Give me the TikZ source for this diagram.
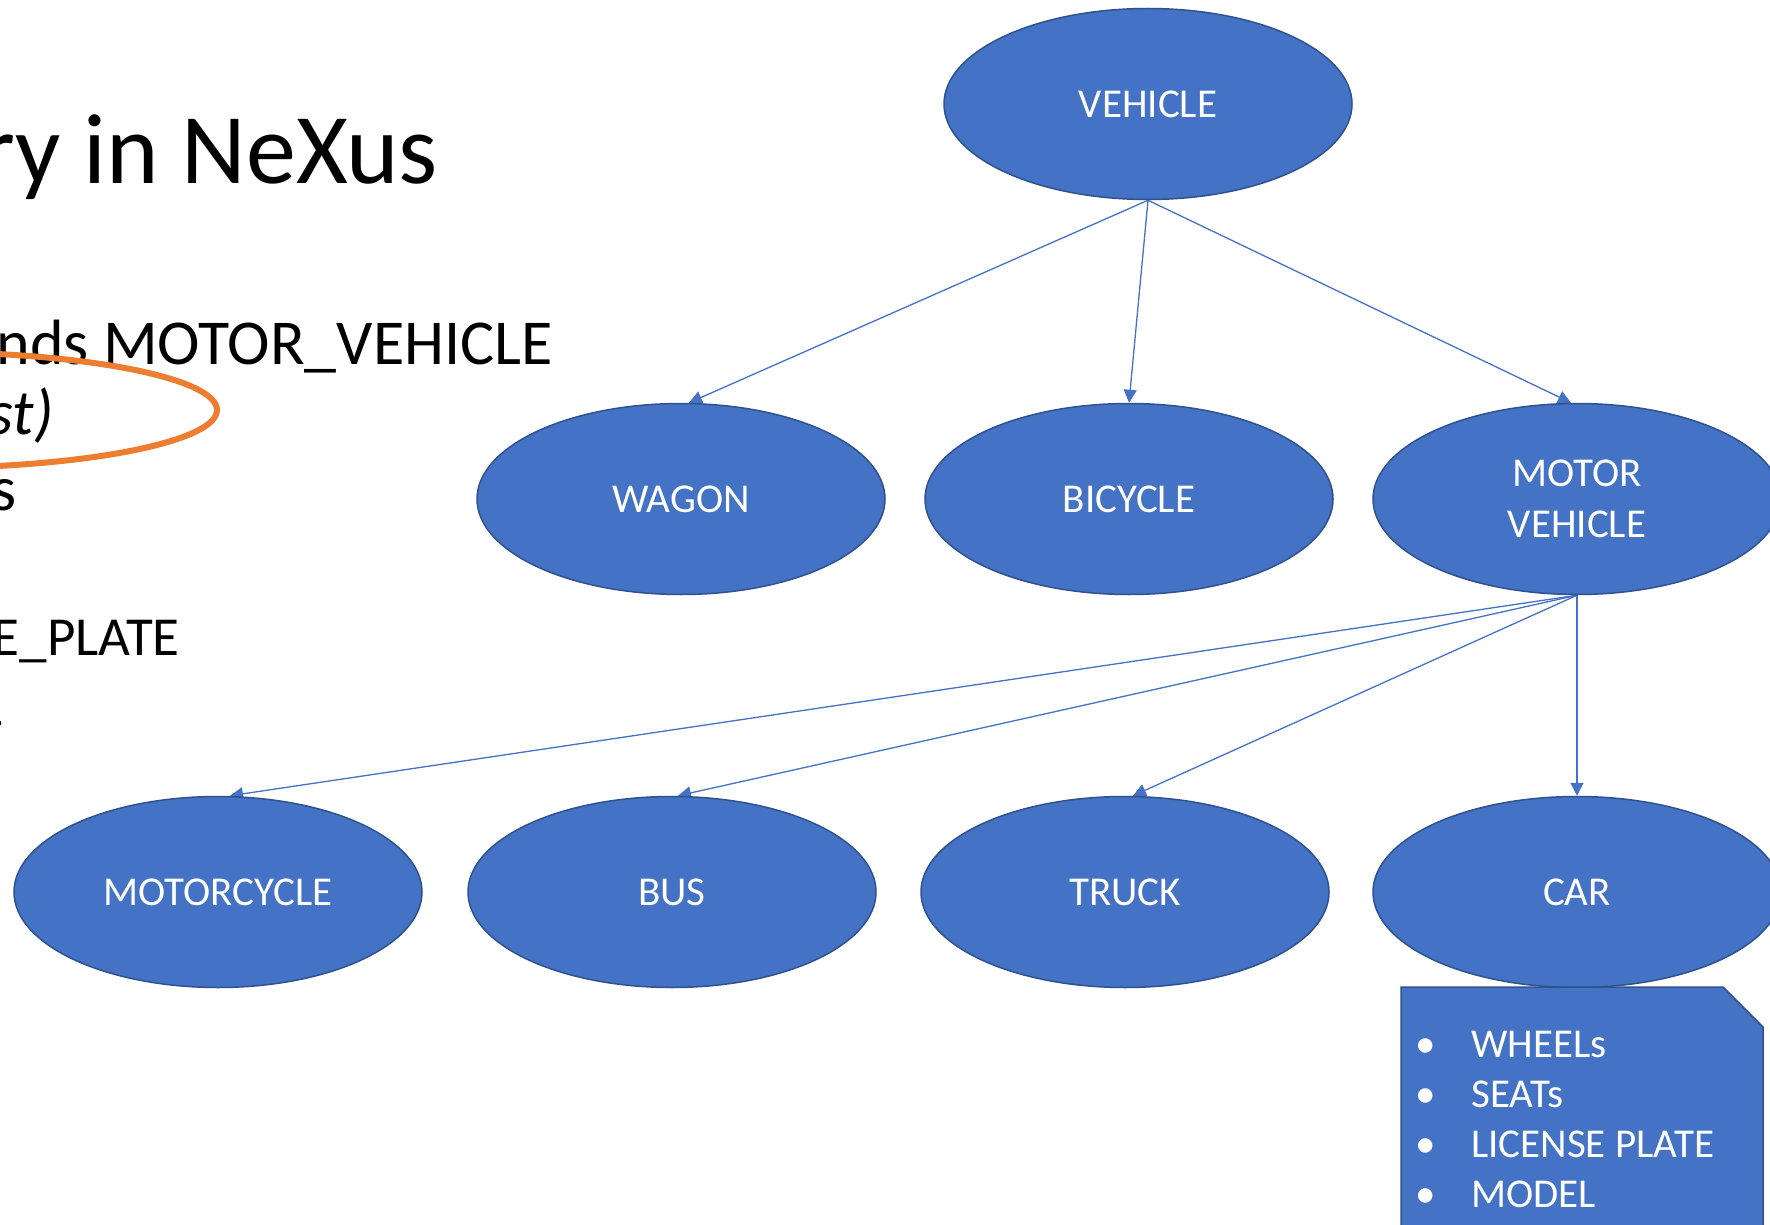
\documentclass[tikz,border=0pt]{standalone}
\usepackage{fontspec}
\setmainfont{Carlito}
\usetikzlibrary{shapes.geometric,arrows.meta,backgrounds}
\definecolor{accentblue}{HTML}{4472C4}
\definecolor{accentedge}{HTML}{2F528F}
\definecolor{accentorange}{HTML}{ED7D31}

\begin{document}
\begin{tikzpicture}[x=1pt,y=-1pt,
  cls/.style={ellipse, fill=accentblue, draw=accentedge, line width=1.5pt,
    minimum width=408pt, minimum height=191pt, inner sep=0pt,
    text=white, font=\fontsize{41}{51}\selectfont, align=center},
  link/.style={draw=accentblue, line width=1.3pt,
    -{Triangle[length=13pt,width=13pt]}},
  slidetext/.style={inner sep=0pt, font=\fontsize{64}{77}\selectfont},
  subtext/.style={inner sep=0pt, font=\fontsize{55}{66}\selectfont},
  titletext/.style={inner sep=0pt, font=\fontsize{100}{120}\selectfont},
  notetext/.style={inner sep=0pt, text=white, font=\fontsize{41}{50}\selectfont},
  ]
\clip (0,0) rectangle (1770,1225);

% class hierarchy
\node[cls] (vehicle)    at (1148,104) {VEHICLE};
\node[cls] (wagon)      at (681,499)  {WAGON};
\node[cls] (bicycle)    at (1129,499) {BICYCLE};
\node[cls] (motor)      at (1577,499) {MOTOR\\VEHICLE};
\node[cls] (motorcycle) at (218,892)  {MOTORCYCLE};
\node[cls] (bus)        at (672,892)  {BUS};
\node[cls] (truck)      at (1125,892) {TRUCK};
\node[cls] (car)        at (1577,892) {CAR};

% inheritance links, kept behind the ellipses
\begin{pgfonlayer}{background}
  \fill[white] (0,0) rectangle (1770,1225);
  \draw[link] (vehicle.south) -- ([xshift=8pt]wagon.north);
  \draw[link] (vehicle.south) -- (bicycle.north);
  \draw[link] (vehicle.south) -- ([xshift=-6pt]motor.north);
  \draw[link] (motor.south) -- ([xshift=12pt]motorcycle.north);
  \draw[link] (motor.south) -- ([xshift=6pt]bus.north);
  \draw[link] (motor.south) -- ([xshift=8pt]truck.north);
  \draw[link] (motor.south) -- (car.north);
\end{pgfonlayer}

% member list of CAR
\path[fill=accentblue, draw=accentedge, line width=1.5pt]
  (1401,987) -- (1723,987) -- (1763,1027) -- (1763,1240) -- (1401,1240) -- cycle;
\foreach \t [count=\i, evaluate=\i as \y using 1057+50.2*(\i-1)] in
    {WHEELs,SEATs,LICENSE PLATE,MODEL} {
  \node[notetext, anchor=base] (dot\i) at (1426,\y) {•};
  \node[notetext, anchor=base west] (item\i) at (1471,\y) {\t};
}

% slide text on the left
\node[titletext, anchor=base east] (title) at (438,184) {ry in NeXus};
\node[slidetext, anchor=base east] (extends) at (553,364) {nds MOTOR\_VEHICLE};
\node[slidetext, anchor=base east] (abstract) at (54,434) {\itshape st)};
\node[slidetext, anchor=base east] (plural) at (17,510) {s};
\node[subtext, anchor=base east] (plate) at (180,655) {E\_PLATE};
\node[subtext, anchor=base east] (stop) at (6,726) {.};

% highlight ring
\draw[accentorange, line width=6pt] (-80,410) ellipse [x radius=297, y radius=58];
\end{tikzpicture}
\end{document}
